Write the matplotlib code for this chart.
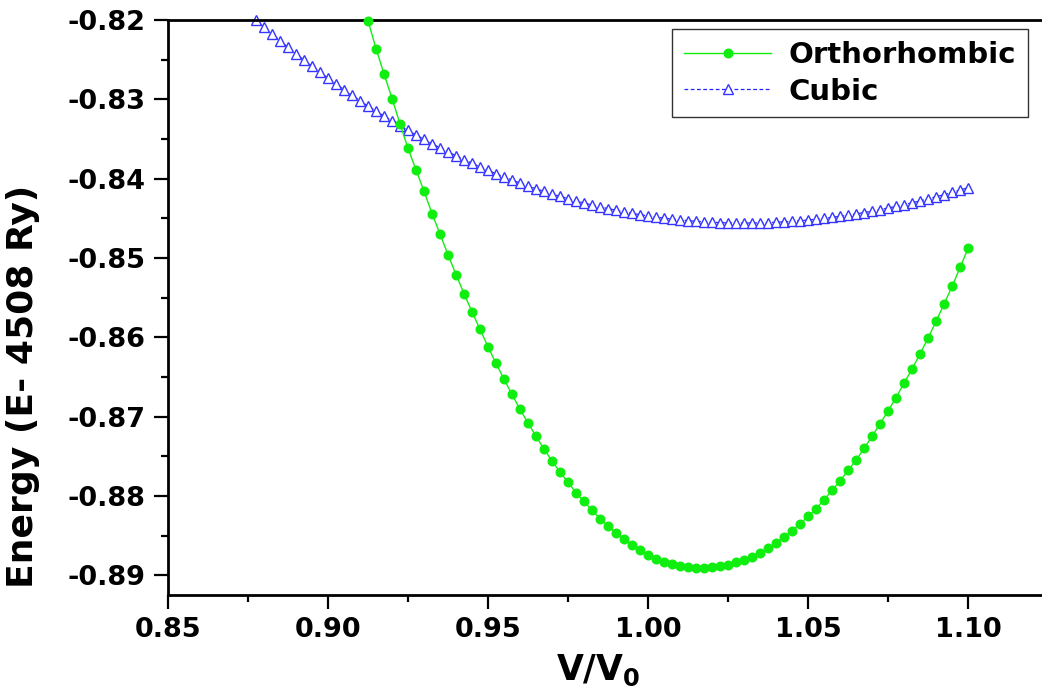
import matplotlib
matplotlib.use("Agg")
import matplotlib.pyplot as plt
from matplotlib.ticker import MultipleLocator, FormatStrFormatter

plt.rcParams['font.family'] = ['DejaVu Sans']
plt.rcParams['font.weight'] = 'bold'
plt.rcParams['axes.unicode_minus'] = False

# ---- data ----
ortho_v = [0.9125, 0.9150, 0.9175, 0.9200, 0.9225, 0.9250, 0.9275, 0.9300, 0.9325, 0.9350,
           0.9375, 0.9400, 0.9425, 0.9450, 0.9475, 0.9500, 0.9525, 0.9550, 0.9575, 0.9600,
           0.9625, 0.9650, 0.9675, 0.9700, 0.9725, 0.9750, 0.9775, 0.9800, 0.9825, 0.9850,
           0.9875, 0.9900, 0.9925, 0.9950, 0.9975, 1.0000, 1.0025, 1.0050, 1.0075, 1.0100,
           1.0125, 1.0150, 1.0175, 1.0200, 1.0225, 1.0250, 1.0275, 1.0300, 1.0325, 1.0350,
           1.0375, 1.0400, 1.0425, 1.0450, 1.0475, 1.0500, 1.0525, 1.0550, 1.0575, 1.0600,
           1.0625, 1.0650, 1.0675, 1.0700, 1.0725, 1.0750, 1.0775, 1.0800, 1.0825, 1.0850,
           1.0875, 1.0900, 1.0925, 1.0950, 1.0975, 1.1000]
ortho_e = [-0.8201, -0.8236, -0.8268, -0.8299, -0.8331, -0.8362, -0.8389, -0.8416, -0.8444, -0.8470,
           -0.8496, -0.8521, -0.8545, -0.8568, -0.8590, -0.8612, -0.8633, -0.8653, -0.8672, -0.8691,
           -0.8708, -0.8725, -0.8741, -0.8756, -0.8770, -0.8783, -0.8796, -0.8807, -0.8818, -0.8829,
           -0.8838, -0.8847, -0.8855, -0.8862, -0.8868, -0.8874, -0.8879, -0.8883, -0.8886, -0.8889,
           -0.8890, -0.8891, -0.8891, -0.8890, -0.8889, -0.8887, -0.8884, -0.8881, -0.8877, -0.8872,
           -0.8866, -0.8859, -0.8852, -0.8844, -0.8835, -0.8826, -0.8816, -0.8805, -0.8793, -0.8781,
           -0.8768, -0.8755, -0.8740, -0.8725, -0.8709, -0.8693, -0.8676, -0.8658, -0.8640, -0.8621,
           -0.8601, -0.8580, -0.8558, -0.8536, -0.8512, -0.8488]

cubic_v = [0.8775, 0.8800, 0.8825, 0.8850, 0.8875, 0.8900, 0.8925, 0.8950, 0.8975, 0.9000,
           0.9025, 0.9050, 0.9075, 0.9100, 0.9125, 0.9150, 0.9175, 0.9200, 0.9225, 0.9250,
           0.9275, 0.9300, 0.9325, 0.9350, 0.9375, 0.9400, 0.9425, 0.9450, 0.9475, 0.9500,
           0.9525, 0.9550, 0.9575, 0.9600, 0.9625, 0.9650, 0.9675, 0.9700, 0.9725, 0.9750,
           0.9775, 0.9800, 0.9825, 0.9850, 0.9875, 0.9900, 0.9925, 0.9950, 0.9975, 1.0000,
           1.0025, 1.0050, 1.0075, 1.0100, 1.0125, 1.0150, 1.0175, 1.0200, 1.0225, 1.0250,
           1.0275, 1.0300, 1.0325, 1.0350, 1.0375, 1.0400, 1.0425, 1.0450, 1.0475, 1.0500,
           1.0525, 1.0550, 1.0575, 1.0600, 1.0625, 1.0650, 1.0675, 1.0700, 1.0725, 1.0750,
           1.0775, 1.0800, 1.0825, 1.0850, 1.0875, 1.0900, 1.0925, 1.0950, 1.0975, 1.1000]
cubic_e = [-0.82003, -0.82091, -0.82177, -0.82261, -0.82344, -0.82426, -0.82505, -0.82583, -0.82659, -0.82734,
           -0.82807, -0.82878, -0.82948, -0.83016, -0.83083, -0.83148, -0.83211, -0.83273, -0.83333, -0.83392,
           -0.83449, -0.83505, -0.83559, -0.83612, -0.83663, -0.83712, -0.83760, -0.83807, -0.83852, -0.83896,
           -0.83938, -0.83979, -0.84018, -0.84056, -0.84092, -0.84127, -0.84160, -0.84192, -0.84223, -0.84252,
           -0.84280, -0.84307, -0.84332, -0.84356, -0.84378, -0.84399, -0.84419, -0.84438, -0.84455, -0.84470,
           -0.84485, -0.84498, -0.84510, -0.84520, -0.84530, -0.84538, -0.84545, -0.84550, -0.84555, -0.84558,
           -0.84559, -0.84560, -0.84559, -0.84558, -0.84555, -0.84550, -0.84545, -0.84538, -0.84531, -0.84522,
           -0.84512, -0.84501, -0.84488, -0.84475, -0.84460, -0.84445, -0.84428, -0.84410, -0.84391, -0.84371,
           -0.84350, -0.84328, -0.84305, -0.84281, -0.84255, -0.84229, -0.84202, -0.84174, -0.84144, -0.84114]

x_ticks = [0.85, 0.90, 0.95, 1.00, 1.05, 1.10]
y_ticks = [-0.89, -0.88, -0.87, -0.86, -0.85, -0.84, -0.83, -0.82]

series_labels = ["Orthorhombic", "Cubic"]
x_label = "V/V$_\\mathbf{0}$"
y_label = "Energy (E- 4508 Ry)"

# ---- figure ----
W, H = 1042, 698
fig = plt.figure(figsize=(W / 100, H / 100), dpi=100)
ax = fig.add_axes([168 / W, 103 / H, 874 / W, 575 / H])

ax.plot(ortho_v, ortho_e, color='#10ee10', lw=1.0, marker='o', ms=6.2,
        mfc='#10ee10', mec='#10ee10', label=series_labels[0], clip_on=False, zorder=3)
ax.plot(cubic_v, cubic_e, color='#2222ff', lw=0.9, ls=(0, (3, 2)), marker='^', ms=6.5,
        mfc='white', mec='#3535ff', mew=1.0, label=series_labels[1], clip_on=False, zorder=2)

ax.set_xlim(0.85, 1.1231)
ax.set_ylim(-0.8925, -0.82)

ax.set_xticks(x_ticks)
ax.set_yticks(y_ticks)
ax.xaxis.set_major_formatter(FormatStrFormatter('%.2f'))
ax.yaxis.set_major_formatter(FormatStrFormatter('%.2f'))
ax.xaxis.set_minor_locator(MultipleLocator(0.025))
ax.yaxis.set_minor_locator(MultipleLocator(0.005))

ax.tick_params(axis='both', which='major', direction='out', length=10, width=1.6,
               labelsize=19.5, pad=6, top=False, right=False)
ax.tick_params(axis='both', which='minor', direction='out', length=5, width=1.6,
               top=False, right=False)
for lbl in ax.get_xticklabels() + ax.get_yticklabels():
    lbl.set_fontweight('bold')

for side in ['left', 'bottom', 'top']:
    ax.spines[side].set_linewidth(2.0)
ax.spines['right'].set_visible(False)

ax.set_xlabel(x_label, fontsize=25, fontweight='bold')
ax.set_ylabel(y_label, fontsize=26, fontweight='bold')
ax.yaxis.set_label_coords(-0.1465, 0.363)
ax.xaxis.set_label_coords(0.492, -0.1)

leg = ax.legend(loc='upper right', bbox_to_anchor=(0.984, 0.984), borderaxespad=0,
                fontsize=21, frameon=True, fancybox=False, handlelength=3.0,
                handletextpad=0.6, labelspacing=0.3, borderpad=0.4)
leg.get_frame().set_edgecolor('black')
leg.get_frame().set_linewidth(1.0)
for t in leg.get_texts():
    t.set_fontweight('bold')

fig.savefig("out.png", dpi=100)
